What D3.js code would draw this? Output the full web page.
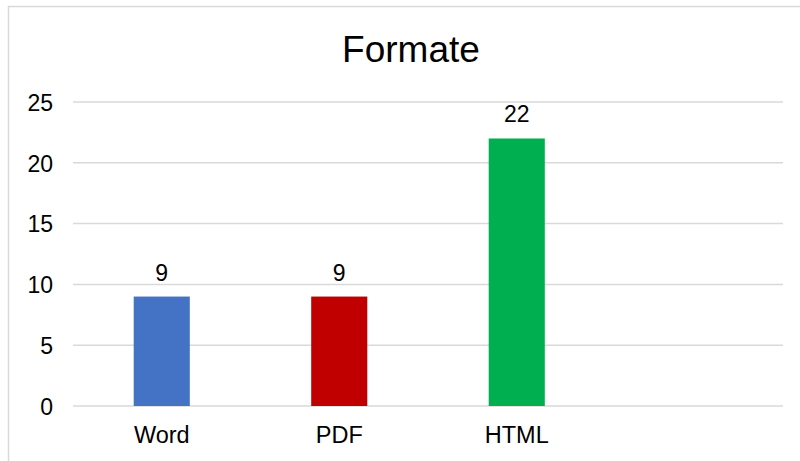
<!DOCTYPE html>
<html>
<head>
<meta charset="utf-8">
<script src="https://cdn.jsdelivr.net/npm/d3@7"></script>
<style>
  body { margin: 0; background: #fff; }
  svg { display: block; font-family: "Liberation Sans", Arial, sans-serif; }
</style>
</head>
<body>
<div id="chart"></div>
<script>
const categories = ['Word', 'PDF', 'HTML'];
const values = [9, 9, 22];
const colors = ['#4472C4', '#C00000', '#00B050'];
const yTicks = [0, 5, 10, 15, 20, 25];
const title = 'Formate';

const width = 800;
const height = 461;
const plot = { left: 73, right: 783, top: 102, bottom: 406 };

const svg = d3.select('#chart')
  .append('svg')
  .attr('width', width)
  .attr('height', height);

// chart frame
svg.append('rect')
  .attr('x', 8.5).attr('y', 6.5)
  .attr('width', 820).attr('height', 500)
  .attr('fill', 'none')
  .attr('stroke', '#d9d9d9')
  .attr('stroke-width', 1.5);

// an empty fourth slot, as in the original
const x = d3.scaleBand()
  .domain([...categories, ''])
  .range([plot.left, plot.right])
  .paddingInner(0.684)
  .paddingOuter(0.342);

const y = d3.scaleLinear()
  .domain([0, 25])
  .range([plot.bottom, plot.top]);

// gridlines
svg.append('g')
  .selectAll('line')
  .data(yTicks)
  .enter()
  .append('line')
  .attr('x1', plot.left)
  .attr('x2', plot.right)
  .attr('y1', d => y(d))
  .attr('y2', d => y(d))
  .attr('stroke', '#d9d9d9')
  .attr('stroke-width', 1.5);

// y axis labels
const yAxis = svg.append('g')
  .attr('transform', `translate(${plot.left - 20},0)`)
  .call(d3.axisLeft(y).tickValues(yTicks).tickSize(0).tickPadding(0));
yAxis.select('.domain').remove();
yAxis.selectAll('text')
  .attr('fill', '#000')
  .style('font-size', '23px')
  .attr('dy', '0.36em');

// x axis labels
const xAxis = svg.append('g')
  .attr('transform', `translate(0,${plot.bottom})`)
  .call(d3.axisBottom(x).tickSize(0).tickPadding(0));
xAxis.select('.domain').remove();
xAxis.selectAll('text')
  .attr('fill', '#000')
  .attr('y', 37)
  .attr('dy', 0)
  .style('font-size', '23.5px');

// bars
svg.selectAll('.bar')
  .data(categories)
  .enter()
  .append('rect')
  .attr('class', 'bar')
  .attr('x', d => x(d))
  .attr('y', (d, i) => y(values[i]))
  .attr('width', x.bandwidth())
  .attr('height', (d, i) => plot.bottom - y(values[i]))
  .attr('fill', (d, i) => colors[i]);

// value labels
svg.selectAll('.label')
  .data(categories)
  .enter()
  .append('text')
  .attr('class', 'label')
  .attr('x', d => x(d) + x.bandwidth() / 2)
  .attr('y', (d, i) => y(values[i]) - 16)
  .attr('text-anchor', 'middle')
  .style('font-size', '23px')
  .text((d, i) => values[i]);

// title
svg.append('text')
  .attr('x', 411)
  .attr('y', 62)
  .attr('text-anchor', 'middle')
  .style('font-size', '37px')
  .text(title);
</script>
</body>
</html>
